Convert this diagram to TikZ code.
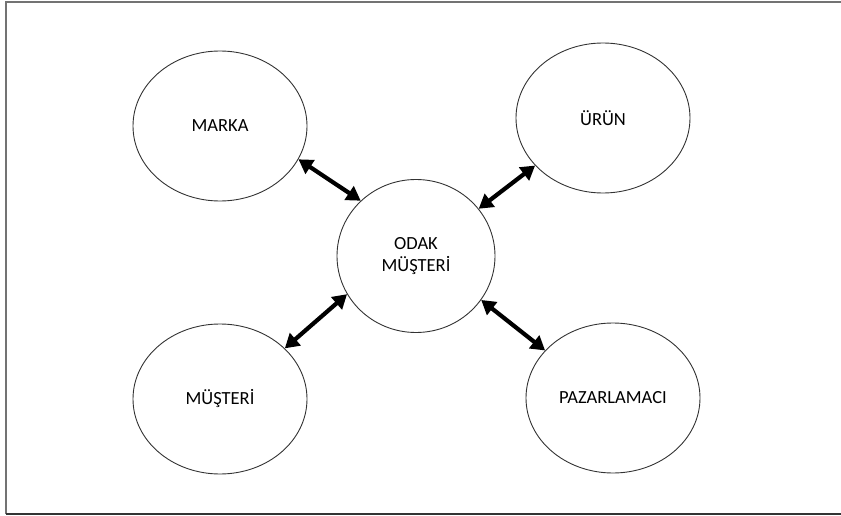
\documentclass[tikz,border=0pt]{standalone}
\usepackage{fontspec}
\setmainfont{Carlito}
\usetikzlibrary{arrows.meta,shapes.geometric}
\begin{document}
\begin{tikzpicture}[x=1pt,y=1pt,
  bubble/.style={draw=black!80, line width=0.9pt, ellipse, inner sep=0pt,
    minimum width=174pt, minimum height=150pt, font=\fontsize{18.5}{22}\selectfont, align=center},
  link/.style={line width=4.2pt, {Triangle[length=14pt,width=16pt]}-{Triangle[length=14pt,width=16pt]}},
  frame/.style={line width=1.6pt, draw=black!55}
]
\useasboundingbox (0,0) rectangle (841,-516);
% frame
\coordinate (f1) at (6,-2);
\coordinate (f2) at (841,-2);
\coordinate (f3) at (6,-514);
\coordinate (f4) at (841,-514);
\draw[frame] (f2) -- (f1) -- (f3);
\draw[line width=1.6pt, draw=black!80] (f3) -- (f4);
% nodes
\node[bubble] (marka) at (220,-126) {MARKA};
\node[bubble] (urun) at (603,-118) {ÜRÜN};
\node[bubble, minimum width=158pt, minimum height=153pt] (odak) at (416,-256) {ODAK\\MÜŞTERİ};
\node[bubble] (musteri) at (220,-399) {MÜŞTERİ};
\node[bubble] (pazar) at (613,-398) {PAZARLAMACI};
% connectors
\draw[link] (marka.337.8) -- (odak.135);
\draw[link] (urun.215.6) -- (odak.37.9);
\draw[link] (musteri.38.1) -- (odak.209.8);
\draw[link] (pazar.145.3) -- (odak.326.9);
\end{tikzpicture}
\end{document}
